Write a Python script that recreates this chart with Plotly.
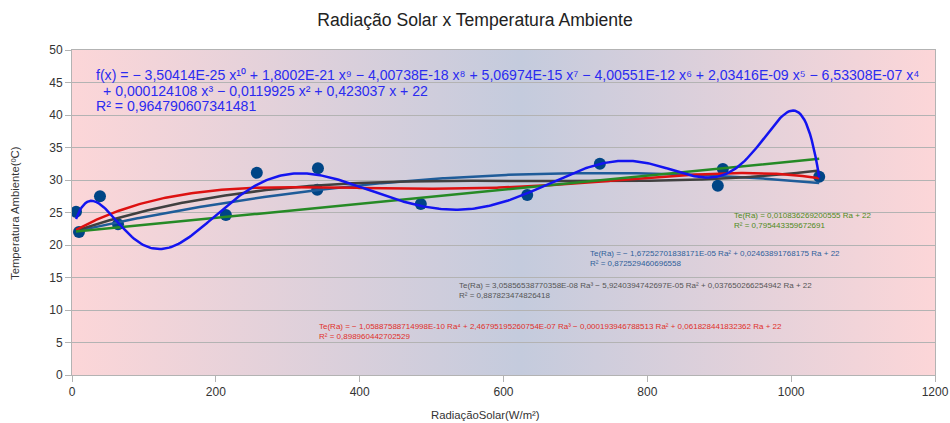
import base64
import numpy as np
import plotly.graph_objects as go

# ---- data ----
radiacao = [5.6, 9.7, 38.9, 64, 214, 257, 341, 342, 485, 633, 734, 898, 905, 1039]
temperatura = [25.1, 22.0, 27.5, 23.2, 24.6, 31.1, 28.5, 31.8, 26.3, 27.7, 32.5, 29.1, 31.7, 30.5]

# trendline coefficients as printed on the chart (highest degree first)
coef_linear = [0.010836269200555, 22]
coef_quad = [-1.67252701838171e-05, 0.02463891768175, 22]
coef_cubic = [3.05856538770358e-08, -5.9240394742697e-05, 0.037650266254942, 22]
coef_quart = [-1.05887588714998e-10, 2.46795195260754e-07, -0.000193946788513, 0.061828441832362, 22]
# degree-10 coefficients as printed (rounded to ~6 digits), x^1 .. x^10
coef_deg10_printed = [0.423037, -0.0119925, 0.000124108, -6.53308e-07, 2.03416e-09,
                      -4.00551e-12, 5.06974e-15, -4.00738e-18, 1.8002e-21, -3.50414e-25]
sig_digits_deg10 = [6, 6, 6, 6, 6, 6, 6, 6, 6, 6]
deg10_intercept = 22

x_ticks = [0, 200, 400, 600, 800, 1000, 1200]
y_ticks = [0, 5, 10, 15, 20, 25, 30, 35, 40, 45, 50]

eq_deg10 = ["f(x) = − 3,50414E-25 x¹⁰ + 1,8002E-21 x⁹ − 4,00738E-18 x⁸ + 5,06974E-15 x⁷ − 4,00551E-12 x⁶ + 2,03416E-09 x⁵ − 6,53308E-07 x⁴",
            "+ 0,000124108 x³ − 0,0119925 x² + 0,423037 x + 22",
            "R² = 0,964790607341481"]
eq_linear = ["Te(Ra) = 0,010836269200555 Ra + 22", "R² = 0,795443359672691"]
eq_quad = ["Te(Ra) = − 1,67252701838171E-05 Ra² + 0,02463891768175 Ra + 22", "R² = 0,872529460696558"]
eq_cubic = ["Te(Ra) = 3,05856538770358E-08 Ra³ − 5,9240394742697E-05 Ra² + 0,037650266254942 Ra + 22",
            "R² = 0,887823474826418"]
eq_quart = ["Te(Ra) = − 1,05887588714998E-10 Ra⁴ + 2,46795195260754E-07 Ra³ − 0,000193946788513 Ra² + 0,061828441832362 Ra + 22",
            "R² = 0,898960442702529"]

# ---- layout geometry (pixels) ----
W, H = 950, 423
L, R, T, B = 72, 15, 50, 48
PW, PH = W - L - R, H - T - B

def px(xp):
    return (xp - L) / PW

def py(yp):
    return (H - B - yp) / PH

# degree-10 trendline: the printed coefficients are rounded, so refine them
# against the data points, allowing each coefficient to move only within
# its rounding tolerance (ridge-regularised least squares, scaled x/1000).
S = 1000.0
k = np.arange(1, 11)
c0 = np.array(coef_deg10_printed) * S ** k
tol = np.array([0.5 * 10 ** (np.floor(np.log10(abs(c))) - (d - 1))
                for c, d in zip(coef_deg10_printed, sig_digits_deg10)]) * S ** k
xa = np.array(radiacao) / S
A = np.vstack([xa ** kk for kk in k]).T
r = np.array(temperatura) - deg10_intercept - A @ c0
lam = 1.0
M = np.vstack([A, np.sqrt(lam) * np.diag(1.0 / tol)])
rhs = np.concatenate([r, np.zeros(10)])
dlt, *_ = np.linalg.lstsq(M, rhs, rcond=None)
c10 = c0 + dlt

def deg10(x):
    xx = np.asarray(x) / S
    return deg10_intercept + sum(c10[i] * xx ** (i + 1) for i in range(10))

fig = go.Figure()

xs = np.linspace(min(radiacao), max(radiacao), 400)

fig.add_trace(go.Scatter(x=radiacao, y=temperatura, mode="markers",
                         marker=dict(color="#004586", size=12, symbol="circle"),
                         showlegend=False))

curves = [
    (np.polyval(coef_quad, xs), "#1f5c99"),
    (np.polyval(coef_cubic, xs), "#404040"),
    (np.polyval(coef_quart, xs), "#dd1111"),
    (np.polyval(coef_linear, xs), "#268a26"),
    (deg10(xs), "#1414f0"),
]
for yv, col in curves:
    fig.add_trace(go.Scatter(x=xs, y=yv, mode="lines",
                             line=dict(color=col, width=2.5), showlegend=False,
                             hoverinfo="skip"))

# gradient background as an svg image
svg = ('<svg xmlns="http://www.w3.org/2000/svg" width="863" height="325" preserveAspectRatio="none">'
       '<defs><linearGradient id="g" x1="0" y1="0" x2="1" y2="0">'
       '<stop offset="0" stop-color="#fcd6d8"/>'
       '<stop offset="0.52" stop-color="#c4cbdd"/>'
       '<stop offset="1" stop-color="#fcd6d8"/>'
       '</linearGradient></defs>'
       '<rect width="863" height="325" fill="url(#g)"/></svg>')
src = "data:image/svg+xml;base64," + base64.b64encode(svg.encode()).decode()
fig.add_layout_image(dict(source=src, xref="x", yref="y", x=0, y=50, sizex=1200, sizey=50,
                          sizing="stretch", layer="below", xanchor="left", yanchor="top"))

FONT = "Liberation Sans, Arial, sans-serif"
ann = []
def add_text(txt, xp, yp, size, color, xanchor="left", angle=0):
    ann.append(dict(text=txt, x=px(xp), y=py(yp), xref="paper", yref="paper",
                    xanchor=xanchor, yanchor="middle", showarrow=False, textangle=angle,
                    font=dict(size=size, color=color, family=FONT)))

add_text(eq_deg10[0], 94, 75, 14.1, "#2b2bf0")
add_text(eq_deg10[1], 101, 91, 14.1, "#2b2bf0")
add_text(eq_deg10[2], 94, 106, 14.1, "#2b2bf0")
for lines, xp, yp, col in [(eq_linear, 732, 215, "#4f8a20"),
                           (eq_quad, 588, 253, "#2f5f9a"),
                           (eq_cubic, 457, 285, "#555555"),
                           (eq_quart, 317, 326, "#e0302a")]:
    add_text(lines[0], xp, yp, 8, col)
    add_text(lines[1], xp, yp + 10, 8, col)

# axis titles
add_text("RadiaçãoSolar(W/m²)", 485, 415, 11.3, "#333333", xanchor="center")
add_text("Temperatura Ambiente(ºC)", 15, 213, 11.3, "#333333", xanchor="center", angle=-90)

fig.update_layout(
    width=W, height=H,
    margin=dict(l=L, r=R, t=T, b=B, autoexpand=False),
    paper_bgcolor="white",
    plot_bgcolor="rgba(0,0,0,0)",
    font=dict(family=FONT, color="#333333", size=12),
    title=dict(text="Radiação Solar x Temperatura Ambiente", x=0.5, xanchor="center",
               y=1 - 20 / H, yanchor="middle", font=dict(size=17.6, color="#222222")),
    annotations=ann,
    showlegend=False,
    hovermode=False,
)
fig.update_xaxes(range=[0, 1200], tickvals=x_ticks, showgrid=False, zeroline=False,
                 showline=True, linecolor="#b3b3b3", mirror=True, ticks="outside",
                 ticklen=6, tickcolor="#b3b3b3", automargin=False)
fig.update_yaxes(range=[0, 50], tickvals=y_ticks, showgrid=True, gridcolor="#b3b3b3",
                 gridwidth=1, zeroline=False, showline=True, linecolor="#b3b3b3", mirror=True,
                 ticks="outside", ticklen=6, tickcolor="#b3b3b3", automargin=False)

fig.write_html("out.html", config={"displayModeBar": False},
               post_script="document.body.style.margin='0';")
